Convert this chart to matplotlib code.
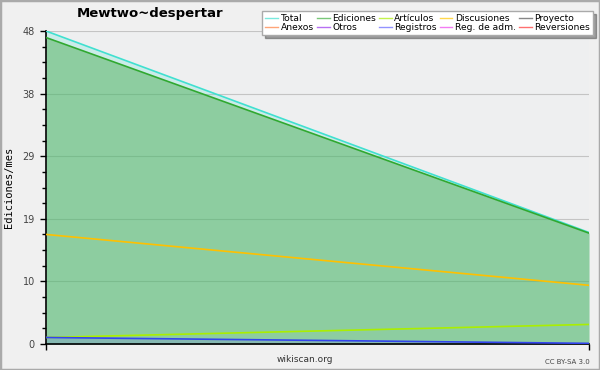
import matplotlib
matplotlib.use("Agg")
import matplotlib.pyplot as plt
from matplotlib.patches import Rectangle
import numpy as np

# two sample points (start / end of the period)
x = [0, 1]
total = [48, 17.1]
ediciones = [47, 17]
articulos = [1.0, 3.0]
discusiones = [16.8, 9.0]
registros = [1.0, 0.1]

legend_names = ["Total", "Anexos", "Ediciones", "Otros", "Artículos", "Registros",
                "Discusiones", "Reg. de adm.", "Proyecto", "Reversiones"]
legend_colors = ["#40e0d0", "#ff7f3f", "#40b040", "#9933ee", "#aaee00", "#6666ff",
                 "#ffc800", "#ee44ee", "#555555", "#ff3333"]

ymax = 48
yticks = np.linspace(0, ymax, 6)

fig = plt.figure(figsize=(6, 3.7), dpi=100, facecolor="#f0f0f0")
fig.patches.append(Rectangle((0, 0), 1, 1, transform=fig.transFigure, fill=False,
                             edgecolor="#aaaaaa", linewidth=2.5))
ax = fig.add_axes([46/600, 1 - 344/370, 543/600, 313/370])
ax.set_facecolor("#eeeff0")

ax.fill_between(x, 0, total, color="#40e0d0", alpha=0.2, linewidth=0, zorder=1)
ax.fill_between(x, 0, ediciones, color="#50b058", alpha=0.5, linewidth=0, zorder=2)
ax.fill_between(x, 0, registros, color="#6666ff", alpha=0.2, linewidth=0, zorder=2)
ax.plot(x, total, color="#40e0d0", lw=1.2, zorder=4)
ax.plot(x, ediciones, color="#30a830", lw=1.2, zorder=4)
ax.plot(x, discusiones, color="#ffc000", lw=1.2, zorder=4)
ax.plot(x, articulos, color="#aaee00", lw=1.2, zorder=4)
ax.plot(x, registros, color="#3344ee", lw=1.2, zorder=4)

ax.set_xlim(0, 1)
ax.set_ylim(0, ymax)
ax.set_yticks(yticks)
ax.set_yticklabels([str(int(round(v))) for v in yticks], fontsize=7, color="#444444")
ax.set_yticks(np.arange(0, ymax, 2.4), minor=True)
ax.tick_params(axis="y", which="major", length=4.5, width=1)
ax.tick_params(axis="y", which="minor", length=3, width=1)
ax.set_xticks([0, 1])
ax.set_xticklabels([])
ax.tick_params(axis="x", length=4, width=1)
ax.grid(axis="y", color="#c4c4c4", lw=0.8, zorder=0)
ax.set_axisbelow(True)
for s in ["top", "right"]:
    ax.spines[s].set_visible(False)
ax.spines["left"].set_linewidth(1.2)
ax.spines["bottom"].set_linewidth(1.2)

ax.set_ylabel("Ediciones/mes", family="DejaVu Sans Mono", fontsize=7.5, labelpad=6)
fig.text(150/600, 1 - 14/370, "Mewtwo~despertar", ha="center", va="center",
         fontsize=9.5, fontweight="bold")
fig.text(305/600, 1 - 360/370, "wikiscan.org", ha="center", va="center",
         fontsize=6.5, color="#333333")
fig.text(590/600, 1 - 362/370, "CC BY-SA 3.0", ha="right", va="center",
         fontsize=5, color="#444444")

handles = [plt.Line2D([], [], color=c, lw=1, alpha=0.7) for c in legend_colors]
leg = fig.legend(handles, legend_names, ncol=5, loc="upper right",
                 bbox_to_anchor=(593/600, 1 - 11/370), fontsize=6.6, frameon=True,
                 fancybox=False, shadow=True, handlelength=1.4, handletextpad=0.3,
                 columnspacing=0.3, labelspacing=0.05, borderpad=0.3,
                 borderaxespad=0)
leg.get_frame().set_edgecolor("#aaaaaa")
leg.get_frame().set_facecolor("white")

fig.savefig("out.png", dpi=100, facecolor=fig.get_facecolor())
